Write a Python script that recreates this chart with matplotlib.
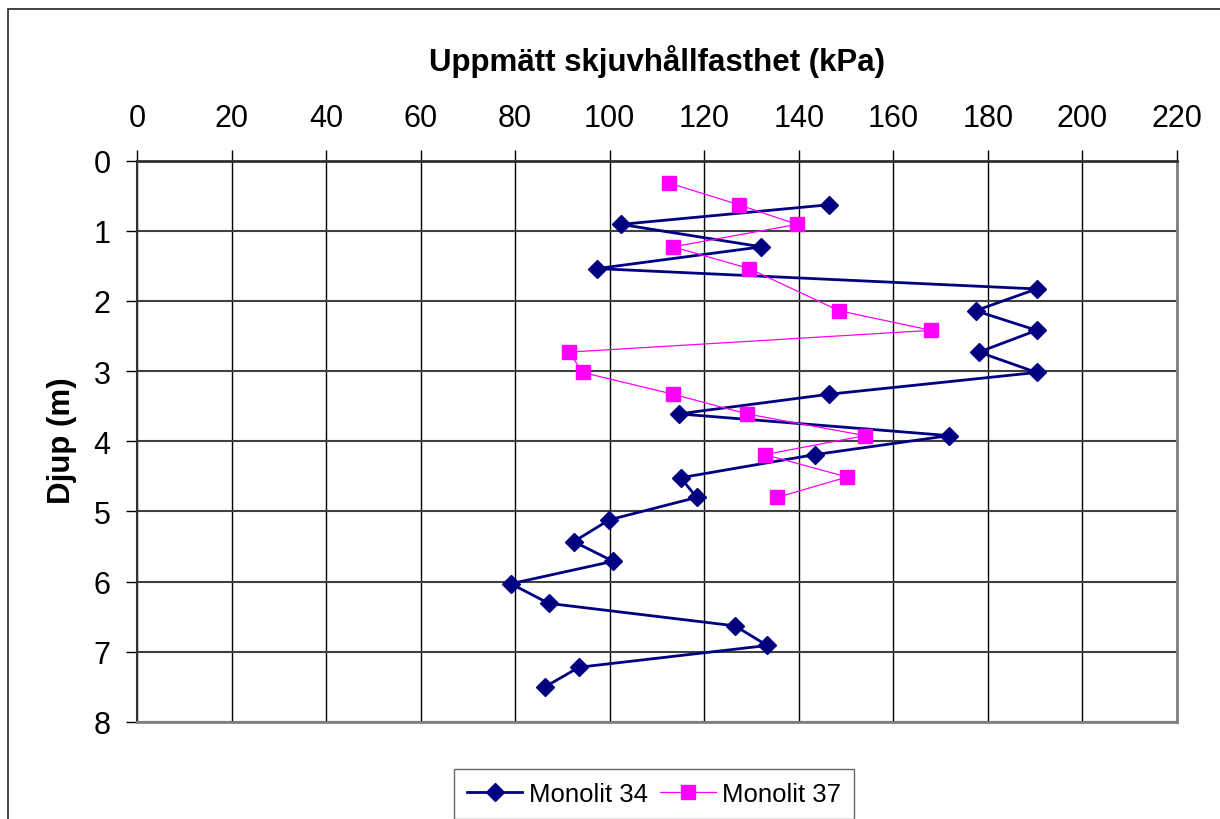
import matplotlib
matplotlib.use("Agg")
import matplotlib.pyplot as plt
from matplotlib.patches import Rectangle

plt.rcParams['font.family'] = ['Liberation Sans', 'DejaVu Sans']

# Monolit 34 (navy diamonds)
m34_strength = [146.4, 102.4, 132.1, 97.3, 190.3, 177.4, 190.3, 178.1, 190.3,
                146.4, 114.6, 171.8, 143.4, 115.0, 118.4, 99.9, 92.4, 100.7,
                79.1, 87.1, 126.5, 133.3, 93.5, 86.3]
m34_depth = [0.63, 0.91, 1.23, 1.54, 1.83, 2.14, 2.42, 2.73, 3.02,
             3.33, 3.61, 3.92, 4.19, 4.52, 4.80, 5.12, 5.43, 5.71,
             6.03, 6.31, 6.63, 6.91, 7.22, 7.50]

# Monolit 37 (magenta squares)
m37_strength = [112.5, 127.3, 139.6, 113.4, 129.5, 148.5, 168.0, 91.4, 94.3,
                113.4, 129.0, 154.0, 132.8, 150.2, 135.4]
m37_depth = [0.32, 0.63, 0.91, 1.23, 1.54, 2.14, 2.42, 2.73, 3.02,
             3.33, 3.61, 3.92, 4.19, 4.51, 4.80]

x_ticks = [0, 20, 40, 60, 80, 100, 120, 140, 160, 180, 200, 220]
y_ticks = [0, 1, 2, 3, 4, 5, 6, 7, 8]

title = "Uppmätt skjuvhållfasthet (kPa)"
ylabel = "Djup (m)"
labels = ["Monolit 34", "Monolit 37"]

W, H = 1220, 820
fig = plt.figure(figsize=(W / 100, H / 100), dpi=100)
fig.patch.set_facecolor("white")

# outer chart border (only left and top visible in reference)
fig.patches.append(Rectangle((8 / W, -0.2), 1.5, 1.2 - 10 / H,
                             transform=fig.transFigure, fill=False,
                             edgecolor="#222222", lw=1.2))

left, right, top, bottom = 137, 1177, 161.5, 723
ax = fig.add_axes([left / W, 1 - bottom / H, (right - left) / W, (bottom - top) / H])

ax.set_xlim(0, 220)
ax.set_ylim(8, 0)
ax.set_xticks(x_ticks)
ax.set_yticks(y_ticks)
ax.xaxis.tick_top()
ax.xaxis.set_label_position("top")

ax.grid(True, axis="x", color="black", lw=1.0)
ax.grid(True, axis="y", color="#404040", lw=1.5)
ax.set_axisbelow(True)

for s in ["right", "bottom"]:
    ax.spines[s].set_color("#808080")
    ax.spines[s].set_linewidth(2)
ax.spines["top"].set_color("#303030")
ax.spines["top"].set_linewidth(2)
ax.spines["left"].set_color("#303030")
ax.spines["left"].set_linewidth(1.5)

ax.tick_params(axis="x", which="major", direction="out", length=8, width=1,
               pad=12, labelsize=22, colors="black")
ax.tick_params(axis="y", which="major", direction="out", length=8, width=1,
               pad=11, labelsize=22, colors="black")

ax.plot(m34_strength, m34_depth, color="#000080", lw=2.0, marker="D",
        markersize=9, markerfacecolor="#000080", markeredgecolor="#000080",
        label=labels[0], clip_on=False, zorder=3)
ax.plot(m37_strength, m37_depth, color="#FF00FF", lw=0.9, marker="s",
        markersize=10, markerfacecolor="#FF00FF", markeredgecolor="#FF00FF",
        label=labels[1], clip_on=False, zorder=4)

fig.text((left + right) / 2 / W, 1 - 62 / H, title, fontsize=22.5,
         fontweight="bold", ha="center", va="center")
fig.text(62 / W, 1 - 441 / H, ylabel, fontsize=22.5, fontweight="bold",
         ha="center", va="center", rotation=90)

leg = fig.legend(loc="center", bbox_to_anchor=(654 / W, 1 - 795 / H),
                 ncol=2, fontsize=18.5, frameon=True, fancybox=False,
                 handlelength=2.15, columnspacing=0.5, handletextpad=0.25,
                 borderpad=0.5, borderaxespad=0)
leg.get_frame().set_edgecolor("#404040")
leg.get_frame().set_linewidth(1.0)

fig.savefig("out.png", dpi=100, facecolor="white")
